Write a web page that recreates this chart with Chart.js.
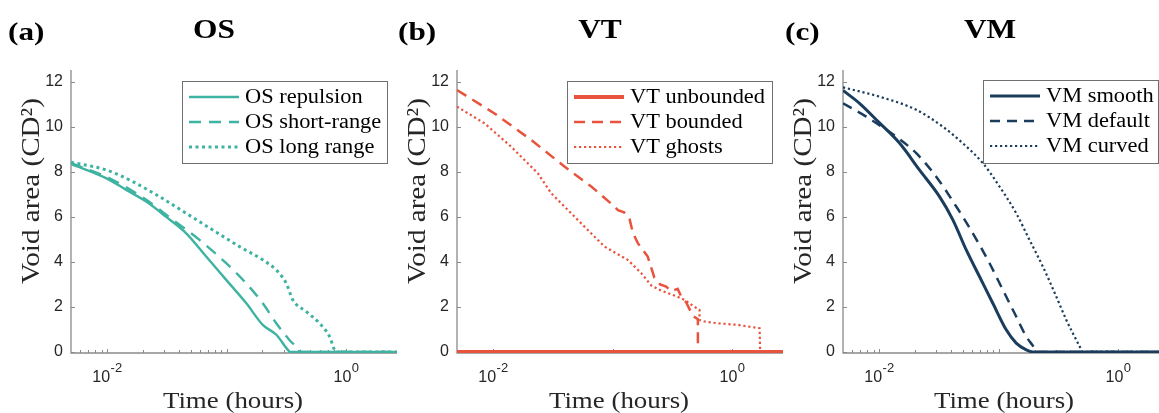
<!DOCTYPE html>
<html>
<head>
<meta charset="utf-8">
<script src="https://cdn.jsdelivr.net/npm/chart.js@4.4.0/dist/chart.umd.min.js"></script>
<style>
  body { margin: 0; background: #fff; }
  #wrap { position: relative; width: 1159px; height: 413px; }
  canvas { position: absolute; left: 0; top: 0; }
</style>
</head>
<body>
<div id="wrap">
  <canvas id="chartOS" width="1159" height="413"></canvas>
  <canvas id="chartVT" width="1159" height="413"></canvas>
  <canvas id="chartVM" width="1159" height="413"></canvas>
</div>
<script>
// ---- data (time in hours, void area in CD^2) ----
const yTickValues = [0, 2, 4, 6, 8, 10, 12];
const xTickLabels = [{ v: 0.01, base: '10', exp: '-2' }, { v: 1, base: '10', exp: '0' }];

// (a) OS
const osRepulsionT = [0.005, 0.01, 0.0145, 0.0213, 0.0313, 0.046, 0.0676, 0.0994, 0.146, 0.201, 0.261, 0.326, 0.34, 2.67];
const osRepulsionA = [8.35, 7.7, 7.2, 6.68, 6.0, 5.27, 4.24, 3.2, 2.17, 1.2, 0.76, 0.09, 0, 0];
const osShortT = [0.005, 0.0105, 0.0213, 0.0356, 0.0594, 0.0994, 0.146, 0.201, 0.261, 0.336, 0.408, 0.42, 2.67];
const osShortA = [8.39, 7.72, 6.76, 5.87, 4.98, 3.94, 3.05, 2.16, 1.27, 0.53, 0.09, 0, 0];
const osLongT = [0.005, 0.0098, 0.0164, 0.0275, 0.046, 0.0767, 0.1285, 0.201, 0.261, 0.316, 0.359, 0.465, 0.6, 0.728, 0.8, 0.82, 2.67];
const osLongA = [8.43, 8.09, 7.57, 6.9, 6.16, 5.42, 4.68, 4.09, 3.64, 3.05, 2.31, 1.79, 1.27, 0.68, 0.09, 0, 0];

// (b) VT
const vtUnboundedT = [0.005, 2.67];
const vtUnboundedA = [0, 0];
const vtBoundedT = [0.005, 0.0103, 0.0209, 0.0396, 0.0664, 0.104, 0.111, 0.125, 0.139, 0.148, 0.163, 0.197, 0.224, 0.25, 0.281, 0.31, 0.351, 0.38, 0.414, 0.47, 0.518, 0.518];
const vtBoundedA = [11.64, 10.6, 9.42, 8.24, 7.35, 6.46, 6.3, 6.2, 5.9, 5.3, 4.83, 4.24, 3.3, 3.0, 2.9, 2.7, 2.8, 2.4, 2.2, 1.6, 1.45, 0];
const vtGhostsT = [0.005, 0.0085, 0.0142, 0.0237, 0.0307, 0.0451, 0.0621, 0.0857, 0.134, 0.174, 0.211, 0.25, 0.29, 0.35, 0.401, 0.485, 0.535, 0.535, 0.589, 0.761, 1.119, 1.7, 1.72];
const vtGhostsA = [10.9, 10.16, 9.12, 7.94, 7.05, 6.16, 5.42, 4.68, 4.09, 3.5, 2.95, 2.75, 2.61, 2.45, 2.31, 2.0, 1.87, 1.42, 1.35, 1.27, 1.2, 1.05, 0];

// (c) VM
const vmSmoothT = [0.005, 0.00687, 0.01, 0.0149, 0.0218, 0.0321, 0.0415, 0.0537, 0.0693, 0.0896, 0.116, 0.1406, 0.1706, 0.194, 2.2];
const vmSmoothA = [11.62, 11.05, 10.2, 9.27, 8.09, 6.9, 5.87, 4.53, 3.35, 2.16, 0.98, 0.39, 0.09, 0, 0];
const vmDefaultT = [0.005, 0.00782, 0.01, 0.0139, 0.0205, 0.0301, 0.0443, 0.061, 0.0841, 0.1086, 0.1406, 0.1706, 0.2, 0.207, 2.2];
const vmDefaultA = [11.05, 10.46, 10.09, 9.57, 8.83, 7.79, 6.46, 5.27, 3.94, 2.76, 1.57, 0.68, 0.16, 0, 0];
const vmCurvedT = [0.005, 0.01, 0.0205, 0.0342, 0.0503, 0.0739, 0.1019, 0.1406, 0.1815, 0.235, 0.304, 0.369, 0.447, 0.492, 0.5, 2.2];
const vmCurvedA = [11.76, 11.35, 10.76, 10.01, 9.27, 8.39, 7.35, 6.16, 4.98, 3.79, 2.46, 1.42, 0.53, 0.09, 0, 0];

// ---- styles ----
const TEAL = '#3fb3a1', RED = '#e9533d', NAVY = '#1b3d5d';
const AXIS = '#8a8a8a', TEXT = '#262626';
const SERIF = '"Liberation Serif", "Times New Roman", serif';
const SANS = '"Liberation Sans", Arial, sans-serif';
const STRETCH = 1.12;

zip = function(t, a) {
  return t.map(function(v, i) { return { x: v, y: a[i] }; });
};

drawText = function(ctx, s, x, y, font, align, sx) {
  ctx.save();
  ctx.font = font;
  ctx.translate(x, y);
  ctx.scale(sx || 1, 1);
  ctx.textAlign = align || 'left';
  ctx.textBaseline = 'alphabetic';
  ctx.fillText(s, 0, 0);
  ctx.restore();
};

const decor = {
  id: 'decor',
  beforeDatasetsDraw(chart, args, o) {
    const ctx = chart.ctx, xs = chart.scales.x, ys = chart.scales.y, a = chart.chartArea;
    ctx.save();
    ctx.strokeStyle = AXIS;
    ctx.lineWidth = 1.3;
    ctx.beginPath();
    ctx.moveTo(a.left, a.top);
    ctx.lineTo(a.left, a.bottom);
    ctx.lineTo(a.right, a.bottom);
    ctx.stroke();
    ctx.lineWidth = 1;
    ctx.beginPath();
    yTickValues.forEach(function(v) {
      const py = Math.round(ys.getPixelForValue(v)) + 0.5;
      ctx.moveTo(a.left, py); ctx.lineTo(a.left + 4, py);
    });
    for (let e = -3; e <= 0; e++) {
      for (let m = 1; m <= 9; m++) {
        const v = m * Math.pow(10, e);
        if (v <= xs.min * 1.01 || v >= xs.max) continue;
        const px = Math.round(xs.getPixelForValue(v)) + 0.5;
        ctx.moveTo(px, a.bottom); ctx.lineTo(px, a.bottom - (m === 1 ? 4 : 3));
      }
    }
    ctx.stroke();
    ctx.restore();
  },
  afterDraw(chart, args, o) {
    const ctx = chart.ctx, xs = chart.scales.x, ys = chart.scales.y, a = chart.chartArea;
    ctx.save();
    ctx.fillStyle = TEXT;
    // y tick labels
    ctx.font = '16px ' + SANS;
    ctx.textAlign = 'right';
    ctx.textBaseline = 'middle';
    yTickValues.forEach(function(v) {
      ctx.fillText(String(v), a.left - 8, ys.getPixelForValue(v));
    });
    // x tick labels with superscript
    xTickLabels.forEach(function(t) {
      const px = xs.getPixelForValue(t.v);
      ctx.font = '16px ' + SANS;
      const wb = ctx.measureText(t.base).width;
      ctx.font = '13px ' + SANS;
      const we = ctx.measureText(t.exp).width;
      const left = px - (wb + we) / 2;
      ctx.textAlign = 'left';
      ctx.textBaseline = 'alphabetic';
      ctx.font = '16px ' + SANS;
      ctx.fillText(t.base, left, 382);
      ctx.font = '13px ' + SANS;
      ctx.fillText(t.exp, left + wb + 0.5, 372);
    });
    // axis titles
    drawText(ctx, 'Time (hours)', o.xTitleX, 408, '24px ' + SERIF, 'center', STRETCH);
    ctx.save();
    ctx.translate(a.left - 40, 191);
    ctx.rotate(-Math.PI / 2);
    drawText(ctx, 'Void area (CD\u00b2)', 0, 8, '26px ' + SERIF, 'center', STRETCH);
    ctx.restore();
    // panel title and label
    ctx.fillStyle = '#000';
    drawText(ctx, o.title, o.titleX, 38, 'bold 28px ' + SERIF, 'center', STRETCH);
    drawText(ctx, o.label, o.labelX, 40, 'bold 26px ' + SERIF, 'left', 1.2);
    // legend
    const b = o.legend;
    ctx.fillStyle = '#fff';
    ctx.fillRect(b.x, b.y, b.w, b.h);
    ctx.strokeStyle = '#6f6f6f';
    ctx.lineWidth = 1;
    ctx.strokeRect(b.x + 0.5, b.y + 0.5, b.w, b.h);
    chart.data.datasets.forEach(function(ds, i) {
      const ry = b.y + 16 + i * 25;
      ctx.save();
      ctx.strokeStyle = ds.borderColor;
      ctx.lineWidth = ds.borderWidth;
      ctx.setLineDash(ds.borderDash || []);
      ctx.beginPath();
      ctx.moveTo(b.x + 7, ry);
      ctx.lineTo(b.x + 57, ry);
      ctx.stroke();
      ctx.restore();
      ctx.fillStyle = '#000';
      drawText(ctx, ds.label, b.x + 63, ry + 6, '20px ' + SERIF, 'left', STRETCH);
    });
    ctx.restore();
  }
};

makePanel = function(id, area, xMax, datasets, o) {
  return new Chart(document.getElementById(id), {
    type: 'line',
    data: { datasets: datasets },
    options: {
      responsive: false,
      animation: false,
      devicePixelRatio: 1,
      layout: { padding: { left: area.left, right: 1159 - area.right, top: 70, bottom: 413 - 353 } },
      elements: { point: { radius: 0 } },
      scales: {
        x: { type: 'logarithmic', min: 0.005, max: xMax, bounds: 'data', display: false },
        y: { type: 'linear', min: -0.05, max: 12.53, bounds: 'data', display: false }
      },
      plugins: { legend: { display: false }, title: { display: false }, tooltip: { enabled: false }, decor: o }
    },
    plugins: [decor]
  });
};

line = function(label, t, a, color, width, dash, smooth) {
  return {
    label: label, data: zip(t, a), borderColor: color, borderWidth: width,
    borderDash: dash, fill: false, borderCapStyle: 'butt',
    cubicInterpolationMode: smooth ? 'monotone' : 'default', tension: 0
  };
};

makePanel('chartOS', { left: 71, right: 397 }, 2.67, [
  line('OS repulsion', osRepulsionT, osRepulsionA, TEAL, 2.4, [], true),
  line('OS short-range', osShortT, osShortA, TEAL, 2.4, [12, 8], true),
  line('OS long range', osLongT, osLongA, TEAL, 3, [3, 3.5], true)
], { title: 'OS', titleX: 214, label: '(a)', labelX: 8, xTitleX: 233, legend: { x: 182, y: 81, w: 205, h: 82 } });

makePanel('chartVT', { left: 457, right: 783 }, 2.67, [
  line('VT unbounded', vtUnboundedT, vtUnboundedA, RED, 3.8, [], false),
  line('VT bounded', vtBoundedT, vtBoundedA, RED, 2.5, [11, 7], false),
  line('VT ghosts', vtGhostsT, vtGhostsA, RED, 2.2, [2.2, 2.8], false)
], { title: 'VT', titleX: 600, label: '(b)', labelX: 398, xTitleX: 619, legend: { x: 567, y: 81, w: 205, h: 82 } });

makePanel('chartVM', { left: 843, right: 1159 }, 2.2, [
  line('VM smooth', vmSmoothT, vmSmoothA, NAVY, 3, [], true),
  line('VM default', vmDefaultT, vmDefaultA, NAVY, 2.5, [10, 7], true),
  line('VM curved', vmCurvedT, vmCurvedA, NAVY, 2.2, [2.2, 2.8], true)
], { title: 'VM', titleX: 990, label: '(c)', labelX: 785, xTitleX: 1004, legend: { x: 983, y: 80, w: 175, h: 83 } });
</script>
</body>
</html>
